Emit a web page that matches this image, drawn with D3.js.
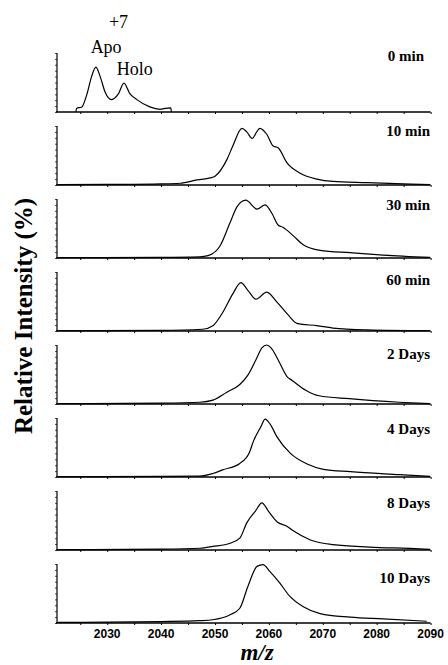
<!DOCTYPE html>
<html>
<head>
<meta charset="utf-8">
<script src="https://cdn.jsdelivr.net/npm/d3@7"></script>
<style>
  body { margin: 0; background: #fff; }
  svg { display: block; }
</style>
</head>
<body>
<svg id="chart"></svg>
<script>
// time points, one panel each
const panelLabels = ["0 min", "10 min", "30 min", "60 min", "2 Days", "4 Days", "8 Days", "10 Days"];
const xTickValues = [2030, 2040, 2050, 2060, 2070, 2080, 2090];

// spectra: [m/z, relative intensity %]
const spec0min = [[2024.2, 0], [2024.3, 6], [2025.3, 8.6], [2026.2, 29], [2027.1, 60], [2027.9, 76], [2028.7, 60],
  [2029.6, 34], [2030.8, 21], [2032.1, 31], [2033.1, 49], [2034.2, 31], [2035.5, 21], [2037.9, 8.6],
  [2039.8, 4.6], [2040.7, 6], [2041.8, 7], [2041.9, 0]];
const spec10min = [[2020.8, 0.5], [2030, 1], [2040, 2], [2043.5, 3], [2046.7, 8.6], [2049.1, 12], [2050, 15],
  [2052.2, 43], [2053.3, 66], [2055, 96], [2055.9, 90], [2056.9, 79], [2057.8, 91], [2058.3, 96], [2059.6, 86],
  [2060.8, 66], [2061.7, 63], [2063.4, 37], [2065.8, 20], [2068.9, 10], [2071.9, 6], [2078.2, 4], [2089.9, 0.5]];
const spec30min = [[2020.8, 0.5], [2040, 1], [2047.2, 2], [2048.7, 4], [2050.9, 20], [2052.8, 60], [2054.1, 87],
  [2055.7, 98], [2057.8, 83], [2059.3, 90], [2060.6, 75], [2061.7, 56], [2062.6, 52], [2064.5, 38],
  [2066.3, 23], [2069.5, 13], [2075.1, 9], [2081.2, 5], [2089.9, 1]];
const spec60min = [[2020.8, 0.5], [2040, 1], [2047.7, 3], [2049.6, 9], [2051.4, 31], [2053.3, 63], [2054.8, 82],
  [2056.1, 69], [2057.6, 54], [2059.6, 66], [2061.5, 49], [2063.4, 29], [2065.2, 13], [2068.9, 9],
  [2071.9, 5], [2078.2, 2], [2089.9, 0.5]];
const spec2days = [[2020.8, 0.5], [2040, 1.5], [2047.2, 3], [2049.6, 6.5], [2052.2, 20], [2054.6, 33], [2056.1, 49],
  [2057.6, 75], [2058.7, 95], [2059.6, 100], [2060.4, 95], [2061.7, 75], [2063.4, 46], [2064.3, 40],
  [2066.9, 23], [2069.3, 14], [2074.9, 9], [2084.2, 3], [2089.9, 0.5]];
const spec4days = [[2020.8, 0.5], [2040, 1], [2047.2, 1.5], [2049.6, 6], [2051.4, 12], [2054.6, 23], [2056.4, 42],
  [2057.1, 60], [2058.5, 85], [2059.3, 98], [2060.2, 90], [2061.5, 68], [2064, 40], [2067.1, 22],
  [2070.1, 13], [2075.1, 9], [2084.2, 4], [2089.9, 1]];
const spec8days = [[2020.8, 0.5], [2040, 1.5], [2047.2, 3], [2049.6, 6], [2052.8, 11.5], [2054.6, 20], [2055.9, 46],
  [2057.5, 66], [2058.7, 80], [2059.9, 66], [2061.5, 48], [2063.4, 40], [2064.6, 32], [2067.7, 17],
  [2071.9, 9], [2078.7, 5], [2088, 2], [2089.9, 1]];
const spec10days = [[2020.8, 1], [2040, 2.5], [2047.2, 4], [2049.6, 5.5], [2052.8, 14], [2054.6, 25], [2056.1, 62],
  [2057.8, 96], [2058.9, 99], [2060.2, 87], [2062, 68], [2063.9, 45], [2066.3, 28], [2069.5, 16],
  [2075.1, 10], [2081.2, 7], [2089.3, 3]];
const spectra = [spec0min, spec10min, spec30min, spec60min, spec2days, spec4days, spec8days, spec10days];

// peak annotations on the first panel: [text, m/z, relative intensity %]
const annotations = [["+7", 2032.1, 143], ["Apo", 2029.8, 100], ["Holo", 2035.1, 62]];

const W = 448, H = 665;
const svg = d3.select("#chart").attr("width", W).attr("height", H);

const x = d3.scaleLinear().domain([2020.5, 2090]).range([56, 430.6]);
const panelTop = 53, panelStep = 73, panelH = 59;

const line = d3.line()
  .x(d => x(d[0]))
  .curve(d3.curveMonotoneX);

spectra.forEach((spec, i) => {
  const top = panelTop + i * panelStep;
  const y = d3.scaleLinear().domain([0, 100]).range([top + panelH, top]);
  const g = svg.append("g");

  // baseline with small ticks every 5 units
  const xAxis = d3.axisBottom(x).tickValues(d3.range(2025, 2091, 5)).tickSize(2).tickFormat("");
  g.append("g")
    .attr("transform", `translate(0,${top + panelH})`)
    .call(xAxis)
    .call(s => s.select(".domain").attr("d", `M${x.range()[0]},0H${x.range()[1]}`).attr("stroke-width", 1.6));

  // left axis, short minor ticks
  const yAxis = d3.axisLeft(y).ticks(8).tickSize(2).tickFormat("");
  g.append("g")
    .attr("transform", `translate(57,0)`)
    .call(yAxis)
    .call(s => s.select(".domain").attr("d", `M0,${top}V${top + panelH}`).attr("stroke-width", 1.2))
    .call(s => s.selectAll(".tick line").attr("stroke-width", 0.7));

  g.append("path")
    .datum(spec)
    .attr("d", line.y(d => y(d[1])))
    .attr("fill", "none")
    .attr("stroke", "#000")
    .attr("stroke-width", 1.2)
    .attr("stroke-linejoin", "round");

  g.append("text")
    .attr("x", i === 0 ? 424 : 430)
    .attr("y", 61 + i * 74.5)
    .attr("text-anchor", "end")
    .attr("font-family", "Liberation Serif, Times New Roman, serif")
    .attr("font-weight", "bold")
    .attr("font-size", 15)
    .text(panelLabels[i]);

  if (i === 0) {
    annotations.forEach(a => {
      g.append("text")
        .attr("x", x(a[1]))
        .attr("y", y(a[2]))
        .attr("text-anchor", "middle")
        .attr("font-family", "Liberation Serif, Times New Roman, serif")
        .attr("font-size", 18)
        .text(a[0]);
    });
  }

  if (i === spectra.length - 1) {
    svg.append("g")
      .selectAll("text")
      .data(xTickValues)
      .join("text")
      .attr("x", d => x(d))
      .attr("y", top + panelH + 15)
      .attr("text-anchor", "middle")
      .attr("font-family", "Liberation Sans, Arial, sans-serif")
      .attr("font-weight", "bold")
      .attr("font-size", 12)
      .text(d => d);
  }
});

// axis titles
svg.append("text")
  .attr("x", 257)
  .attr("y", 660)
  .attr("text-anchor", "middle")
  .attr("font-family", "Liberation Serif, Times New Roman, serif")
  .attr("font-style", "italic")
  .attr("font-weight", "bold")
  .attr("font-size", 23)
  .text("m/z");

svg.append("text")
  .attr("transform", "translate(32,316) rotate(-90)")
  .attr("text-anchor", "middle")
  .attr("font-family", "Liberation Serif, Times New Roman, serif")
  .attr("font-weight", "bold")
  .attr("font-size", 25)
  .text("Relative Intensity (%)");
</script>
</body>
</html>
